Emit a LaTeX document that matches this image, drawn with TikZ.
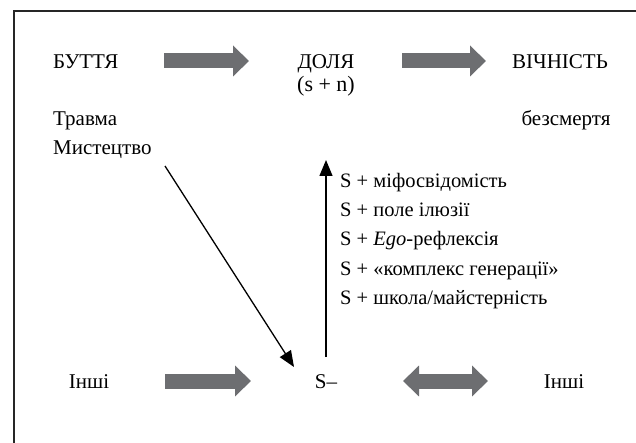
\documentclass[tikz,border=0pt]{standalone}
\usepackage{fontspec}
\setmainfont{Liberation Serif}
\usetikzlibrary{arrows.meta}
\definecolor{arrowgray}{HTML}{6D6E71}
\tikzset{
  lbl/.style={inner sep=0pt, font=\fontsize{21}{24}\selectfont},
  lst/.style={inner sep=0pt, anchor=base west, font=\fontsize{20.5}{24}\selectfont},
  blockarrow/.style={draw=arrowgray, line width=15pt, -{Triangle[width=30pt,length=16pt,fill=arrowgray]}},
  dblockarrow/.style={draw=arrowgray, line width=15pt, {Triangle[width=30pt,length=16pt,fill=arrowgray]}-{Triangle[width=30pt,length=16pt,fill=arrowgray]}},
  thinarrow/.style={line width=1.3pt, -{Triangle[width=13pt,length=16pt]}}
}
\begin{document}
\begin{tikzpicture}[x=1pt,y=-1pt]
\useasboundingbox (0,0) rectangle (636,443);
\clip (0,0) rectangle (636,443);
\fill[white] (0,0) rectangle (636,443);
\draw[line width=1.3pt, draw=black!85] (14,11) rectangle (660,470);
% top row
\node[lbl, anchor=base west] (butt) at (53,69) {БУТТЯ};
\node[lbl, anchor=base] (dolya) at (326,69) {ДОЛЯ};
\node[lbl, anchor=base, font=\fontsize{22}{24}\selectfont] (sn) at (326,92) {(s + n)};
\node[lbl, anchor=base] (vich) at (560,69) {ВІЧНІСТЬ};
\node[lbl, anchor=base west] (travma) at (53,126) {Травма};
\node[lbl, anchor=base west] (myst) at (53,155) {Мистецтво};
\node[lbl, anchor=base] (bez) at (566,126) {безсмертя};
% list
\node[lst] (l1) at (340,188) {S + міфосвідомість};
\node[lst] (l2) at (340,217) {S + поле ілюзії};
\node[lst] (l3) at (340,246) {S + \textit{Ego}-рефлексія};
\node[lst] (l4) at (340,275) {S + «комплекс генерації»};
\node[lst] (l5) at (340,304) {S + школа/майстерність};
% bottom row
\node[lbl, anchor=base] (inshi1) at (89,388) {Інші};
\node[lbl, anchor=base] (sminus) at (326,388) {S–};
\node[lbl, anchor=base] (inshi2) at (564,388) {Інші};
% block arrows
\coordinate (a1s) at (164,61); \coordinate (a1e) at (249,61);
\coordinate (a2s) at (402,61); \coordinate (a2e) at (486,61);
\coordinate (a3s) at (165,381); \coordinate (a3e) at (251,381);
\coordinate (a4s) at (403,381); \coordinate (a4e) at (488,381);
\draw[blockarrow] (a1s) -- (a1e);
\draw[blockarrow] (a2s) -- (a2e);
\draw[blockarrow] (a3s) -- (a3e);
\draw[dblockarrow] (a4s) -- (a4e);
% thin arrows
\coordinate (upS) at (326,357); \coordinate (upE) at (326,160);
\coordinate (dgS) at (165,166); \coordinate (dgE) at (294,367);
\draw[thinarrow] (upS) -- (upE);
\draw[thinarrow] (dgS) -- (dgE);
\end{tikzpicture}
\end{document}
